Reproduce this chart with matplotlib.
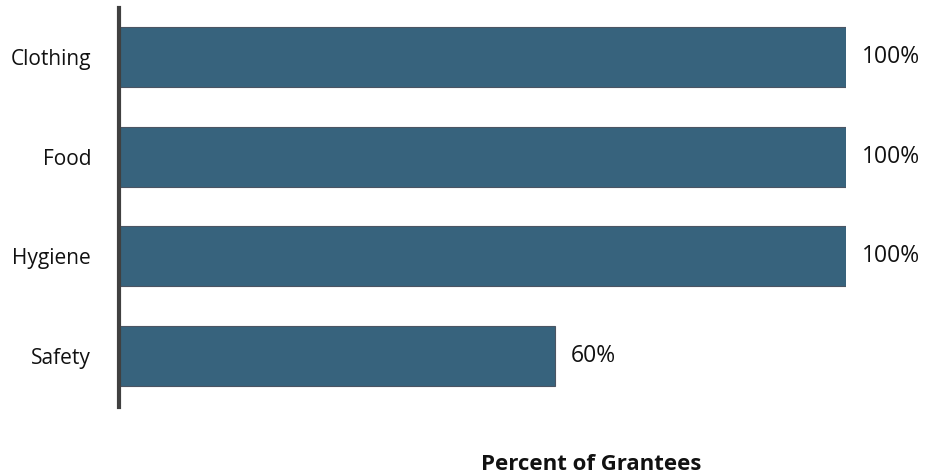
import matplotlib
matplotlib.use("Agg")
from matplotlib import pyplot as plt

categories = ["Clothing", "Food", "Hygiene", "Safety"]
values = [100, 100, 100, 60]
labels = ["100%", "100%", "100%", "60%"]

plt.rcParams['font.family'] = ['Open Sans', 'DejaVu Sans']

fig = plt.figure(figsize=(9.26, 4.75), dpi=100)
ax = fig.add_axes([119 / 926, 1 - 407 / 475, (846 - 119) / 926, 399 / 475])

pos = list(range(len(categories)))
ax.barh(pos, values, height=0.6, color='#37637d', edgecolor='#4b5563', linewidth=0.8)
for p, v, t in zip(pos, values, labels):
    ax.text(v + 2.2, p, t, va='center', ha='left', fontsize=16.5, color='#111111')

ax.set_xlim(0, 100)
ax.set_ylim(3.51, -0.49)
ax.set_yticks(pos)
ax.set_yticklabels(categories, fontsize=15, color='#111111')
ax.tick_params(axis='y', length=0, pad=20)
ax.set_xticks([])
for s in ['top', 'right', 'bottom']:
    ax.spines[s].set_visible(False)
ax.spines['left'].set_linewidth(3)
ax.spines['left'].set_color('#404040')
ax.spines['left'].set_clip_on(False)

fig.text(591 / 926, 1 - 465 / 475, "Percent of Grantees", ha='center', va='center',
         fontsize=16, fontweight='bold', color='#111111')

fig.savefig("out.png", dpi=100)
